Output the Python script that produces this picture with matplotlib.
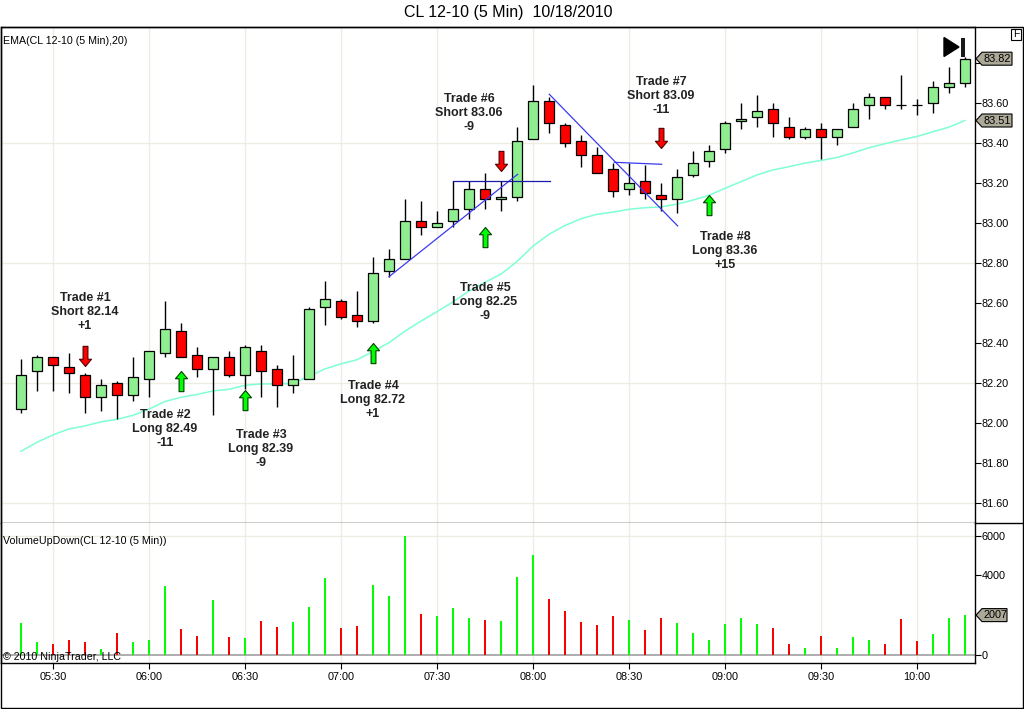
import numpy as np
import pandas as pd
import matplotlib
matplotlib.use("Agg")
import matplotlib.pyplot as plt
import matplotlib.transforms as mtransforms
from matplotlib.path import Path
from matplotlib.patches import Polygon, Rectangle
from matplotlib.lines import Line2D

plt.rcParams['font.family'] = ['Liberation Sans', 'DejaVu Sans']

# ---- data (CL 12-10, 5 min bars, 10/18/2010) ----
bar_times = pd.date_range("2010-10-18 05:20", periods=60, freq="5min")

opens = [82.07, 82.26, 82.33, 82.28, 82.24, 82.13, 82.20, 82.14, 82.22, 82.35,
         82.46, 82.34, 82.27, 82.33, 82.24, 82.36, 82.27, 82.19, 82.22, 82.58,
         82.61, 82.54, 82.51, 82.76, 82.82, 83.01, 82.98, 83.01, 83.07, 83.17,
         83.12, 83.13, 83.42, 83.61, 83.49, 83.41, 83.34, 83.27, 83.17, 83.21,
         83.14, 83.12, 83.24, 83.31, 83.37, 83.51, 83.53, 83.57, 83.48, 83.43,
         83.47, 83.43, 83.48, 83.59, 83.63, 83.59, 83.59, 83.60, 83.68, 83.70]
highs = [82.32, 82.34, 82.33, 82.35, 82.25, 82.22, 82.21, 82.33, 82.36, 82.61,
         82.50, 82.38, 82.33, 82.36, 82.39, 82.39, 82.29, 82.34, 82.58, 82.71,
         82.62, 82.66, 82.83, 82.87, 83.12, 83.11, 83.06, 83.21, 83.21, 83.25,
         83.21, 83.48, 83.69, 83.63, 83.50, 83.44, 83.38, 83.30, 83.30, 83.29,
         83.20, 83.27, 83.36, 83.39, 83.51, 83.60, 83.64, 83.60, 83.53, 83.48,
         83.50, 83.47, 83.60, 83.65, 83.63, 83.74, 83.62, 83.71, 83.78, 83.83]
lows = [82.05, 82.16, 82.16, 82.15, 82.05, 82.06, 82.02, 82.11, 82.13, 82.33,
        82.33, 82.23, 82.04, 82.23, 82.17, 82.13, 82.08, 82.15, 82.22, 82.49,
        82.52, 82.48, 82.50, 82.73, 82.82, 82.94, 82.98, 82.98, 83.02, 83.07,
        83.06, 83.11, 83.42, 83.45, 83.38, 83.28, 83.25, 83.13, 83.14, 83.12,
        83.06, 83.05, 83.23, 83.28, 83.35, 83.47, 83.48, 83.43, 83.42, 83.42,
        83.32, 83.39, 83.48, 83.52, 83.57, 83.57, 83.54, 83.55, 83.65, 83.68]
closes = [82.24, 82.33, 82.29, 82.25, 82.13, 82.19, 82.14, 82.23, 82.36, 82.47,
          82.33, 82.27, 82.33, 82.24, 82.38, 82.26, 82.19, 82.22, 82.57, 82.62,
          82.53, 82.51, 82.75, 82.82, 83.01, 82.98, 83.00, 83.07, 83.17, 83.12,
          83.13, 83.41, 83.61, 83.50, 83.40, 83.34, 83.25, 83.16, 83.20, 83.15,
          83.12, 83.23, 83.30, 83.36, 83.50, 83.52, 83.56, 83.50, 83.43, 83.47,
          83.43, 83.47, 83.57, 83.63, 83.59, 83.59, 83.59, 83.68, 83.70, 83.82]
ema20 = [81.857, 81.902, 81.939, 81.969, 81.984, 82.004, 82.017, 82.037, 82.068, 82.106,
         82.127, 82.141, 82.159, 82.167, 82.187, 82.194, 82.194, 82.196, 82.232, 82.269,
         82.294, 82.315, 82.356, 82.400, 82.458, 82.508, 82.555, 82.604, 82.658, 82.702,
         82.743, 82.806, 82.883, 82.942, 82.986, 83.020, 83.042, 83.053, 83.067, 83.075,
         83.079, 83.093, 83.113, 83.137, 83.172, 83.205, 83.239, 83.264, 83.280, 83.298,
         83.311, 83.326, 83.349, 83.375, 83.395, 83.414, 83.431, 83.455, 83.478, 83.511]
volumes = [1610, 655, 555, 755, 655, 300, 1105, 655, 755, 3470,
           1305, 955, 2765, 905, 855, 1710, 1410, 1660, 2415, 3870,
           1360, 1460, 3520, 2965, 5985, 2060, 1960, 2365, 1860, 1760,
           1710, 3920, 5030, 2815, 2210, 1660, 1510, 1960, 1760, 1255,
           1860, 1610, 1105, 755, 1560, 1860, 1560, 1360, 555, 350,
           955, 350, 905, 755, 555, 1810, 705, 1055, 1860, 2007]

# trade annotations
trade_names = ["Trade #1", "Trade #2", "Trade #3", "Trade #4",
               "Trade #5", "Trade #6", "Trade #7", "Trade #8"]
trade_sides = ["Short", "Long", "Long", "Long", "Long", "Short", "Short", "Long"]
trade_prices = ["82.14", "82.49", "82.39", "82.72", "82.25", "83.06", "83.09", "83.36"]
trade_pnl = ["+1", "-11", "-9", "+1", "-9", "-9", "-11", "+15"]
arrow_bar = [4, 10, 14, 22, 29, 30, 40, 43]
arrow_tip = [82.283, 82.26, 82.163, 82.40, 82.98, 83.26, 83.373, 83.139]
label_bar = [4, 9, 15, 22, 29, 28, 40, 44]
label_price = [82.553, 81.968, 81.868, 82.114, 82.603, 83.548, 83.633, 82.858]

# drawn trend lines: (bar0, price0, bar1, price1)
trend_lines = [(23.0, 82.73, 31.04, 83.242),
               (27.0, 83.21, 33.06, 83.21),
               (33.02, 83.642, 41.04, 82.984),
               (37.08, 83.302, 40.04, 83.292)]

price_ticks = [81.60, 81.80, 82.00, 82.20, 82.40, 82.60, 82.80, 83.00, 83.20, 83.40, 83.60, 83.80]
price_grid = [81.60, 82.20, 82.80, 83.40]
vol_ticks = [0, 2000, 4000, 6000]

# ---- figure ----
W, H = 1024, 709
fig = plt.figure(figsize=(W / 100, H / 100), dpi=100)


def fx(px):
    return px / W


def fy(py):
    return 1 - py / H


ax_p = fig.add_axes([fx(1), fy(522.7), fx(975) - fx(1), fy(27) - fy(522.7)])
ax_v = fig.add_axes([fx(1), fy(663.3), fx(975) - fx(1), fy(522.7) - fy(663.3)])

x = np.arange(len(opens))
o = np.array(opens)
h = np.array(highs)
l = np.array(lows)
c = np.array(closes)

grid_col = '#EFEDE2'
tick_bars = [i for i, t in enumerate(bar_times) if t.minute % 30 == 0]
tick_labels = [bar_times[i].strftime("%H:%M") for i in tick_bars]

# price panel
for gp in price_grid:
    ax_p.axhline(gp, color=grid_col, lw=1, zorder=0)
for tb in tick_bars:
    ax_p.axvline(tb, color=grid_col, lw=1, zorder=0)
    ax_v.axvline(tb, color=grid_col, lw=1, zorder=0)

ax_p.plot(x, ema20, color='#7FFFD4', lw=1.1, zorder=2)

body_col = np.where(c >= o, '#90EE90', '#FF0000')
ax_p.vlines(x, l, h, color='black', lw=1.0, zorder=3)
ax_p.bar(x, np.abs(c - o), bottom=np.minimum(o, c), width=0.6,
         color=body_col, edgecolor='black', linewidth=0.9, zorder=4)

for i, (x0, y0, x1, y1) in enumerate(trend_lines):
    col = '#1A1AA8' if i == 1 else '#3A3AF0'
    ax_p.plot([x0, x1], [y0, y1], color=col, lw=0.9, zorder=5)

codes = [Path.MOVETO] + [Path.LINETO] * 6 + [Path.CLOSEPOLY]
up_verts = [(0, 0), (0.3, -0.36), (0.12, -0.36), (0.12, -1), (-0.12, -1),
            (-0.12, -0.36), (-0.3, -0.36), (0, 0)]
up_arrow = Path(up_verts, codes)
down_arrow = Path([(vx, -vy) for vx, vy in up_verts], codes)

for k in range(len(trade_names)):
    if trade_sides[k] == "Long":
        ax_p.plot(arrow_bar[k], arrow_tip[k], marker=up_arrow, ms=29, ls='none',
                  mfc='#00FF00', mec='#004000', mew=0.8, zorder=6)
    else:
        ax_p.plot(arrow_bar[k], arrow_tip[k], marker=down_arrow, ms=29, ls='none',
                  mfc='#FF0000', mec='#500000', mew=0.8, zorder=6)
    ax_p.text(label_bar[k], label_price[k],
              f"{trade_names[k]}\n{trade_sides[k]} {trade_prices[k]}\n{trade_pnl[k]}",
              ha='center', va='center', fontsize=9, fontweight='bold',
              color='#222222', linespacing=1.2, zorder=7)

ax_p.set_xlim(-1.25, 59.625)
ax_p.set_ylim(81.50, 83.9785)
ax_p.yaxis.tick_right()
ax_p.set_yticks(price_ticks)
# the 83.80 label sits behind the last-price tag, so leave it blank
ax_p.set_yticklabels([f"{v:.2f}" if abs(v - closes[-1]) > 0.05 else "" for v in price_ticks])
ax_p.tick_params(axis='y', direction='out', length=4, width=0.8, pad=1, labelsize=7.8)
ax_p.set_xticks(tick_bars)
ax_p.tick_params(axis='x', length=0, labelbottom=False)

# volume panel
vol_col = np.where(c > o, '#00FF00', '#FF0000')
ax_v.axhline(6000, color=grid_col, lw=1, zorder=0)
ax_v.axhline(0, color='#A0A0A0', lw=1.2, zorder=2)
ax_v.bar(x, volumes, width=0.14, color=vol_col, zorder=3)
ax_v.set_xlim(-1.25, 59.625)
ax_v.set_ylim(-417, 6655)
ax_v.yaxis.tick_right()
ax_v.set_yticks(vol_ticks)
ax_v.set_yticklabels([str(v) if abs(v - volumes[-1]) > 300 else "" for v in vol_ticks])
ax_v.tick_params(axis='y', direction='out', length=4, width=0.8, pad=1, labelsize=7.8)
ax_v.set_xticks(tick_bars)
ax_v.set_xticklabels(tick_labels)
ax_v.tick_params(axis='x', direction='out', length=4, width=0.8, pad=2.5, labelsize=7.8)
ax_v.spines['top'].set_visible(False)

for ax in (ax_p, ax_v):
    for sp in ax.spines.values():
        sp.set_linewidth(1.0)


def value_tag(ax, val, text, w):
    blend = mtransforms.blended_transform_factory(ax.transAxes, ax.transData)
    tr = mtransforms.Affine2D() + mtransforms.ScaledTranslation(1, val, blend)
    poly = Polygon([(1, 0), (7, 6.5), (w, 6.5), (w, -6.5), (7, -6.5)], closed=True,
                   transform=tr, facecolor='#ADA998', edgecolor='black', lw=0.8,
                   clip_on=False, zorder=10)
    ax.add_patch(poly)
    ax.text(8, 0, text, transform=tr, ha='left', va='center', fontsize=7.8,
            clip_on=False, zorder=11)


value_tag(ax_p, closes[-1], f"{closes[-1]:.2f}", 37)
value_tag(ax_p, ema20[-1], f"{ema20[-1]:.2f}", 37)
value_tag(ax_v, volumes[-1], str(volumes[-1]), 32)

# frame and panel separators
fig.add_artist(Rectangle((fx(1), fy(708)), fx(1023) - fx(1), fy(27) - fy(708),
                         fill=False, edgecolor='black', lw=1.0, transform=fig.transFigure))
fig.add_artist(Line2D([fx(975), fx(1023)], [fy(522.7), fy(522.7)], color='black', lw=1.0))

# texts
fig.text(fx(508), fy(13), "CL 12-10 (5 Min)  10/18/2010", ha='center', va='center', fontsize=11.5)
fig.text(fx(3), fy(41.5), "EMA(CL 12-10 (5 Min),20)", ha='left', va='center', fontsize=7.7)
fig.text(fx(3), fy(541.5), "VolumeUpDown(CL 12-10 (5 Min))", ha='left', va='center', fontsize=7.7)
fig.text(fx(3), fy(657), "\u00a9 2010 NinjaTrader, LLC", ha='left', va='center', fontsize=7.7)

# go-to-end icon and F box
fig.add_artist(Polygon([(fx(944), fy(37.5)), (fx(944), fy(56.5)), (fx(959), fy(47))],
                       closed=True, facecolor='black', edgecolor='black', transform=fig.transFigure))
fig.add_artist(Rectangle((fx(961), fy(56.5)), fx(965) - fx(961), fy(37.5) - fy(56.5),
                         facecolor='#1A1A1A', edgecolor='none', transform=fig.transFigure))
fig.add_artist(Rectangle((fx(1011), fy(39.5)), fx(1021.3) - fx(1011), fy(28.5) - fy(39.5),
                         facecolor='white', edgecolor='black', lw=0.8, transform=fig.transFigure))
fig.text(fx(1016.2), fy(34), "F", ha='center', va='center', fontsize=7.5)

fig.savefig("out.png", dpi=100)
